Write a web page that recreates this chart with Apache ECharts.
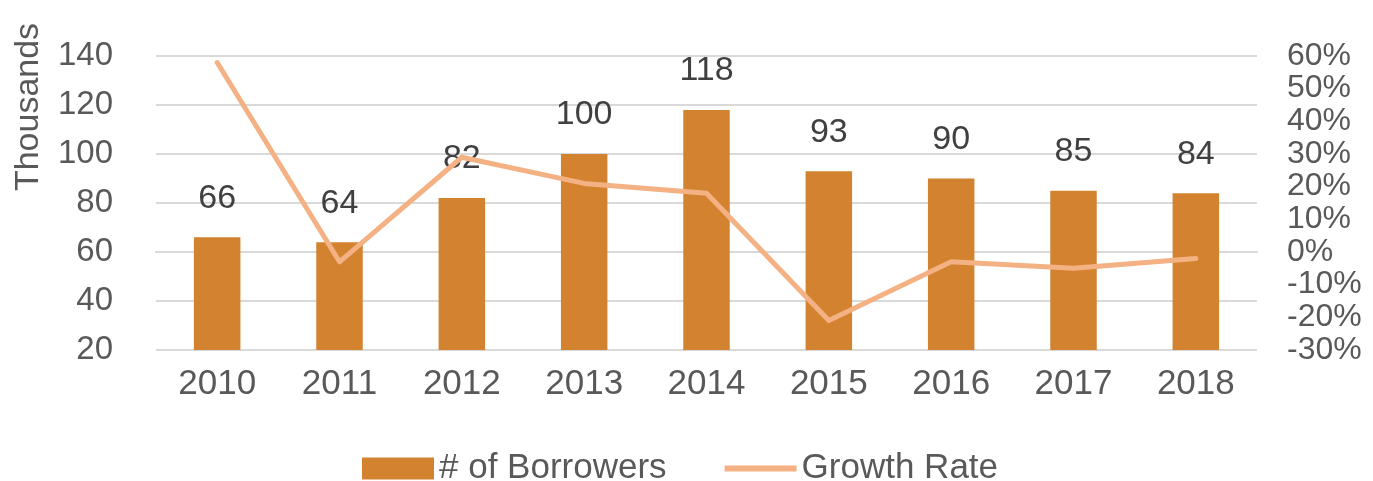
<!DOCTYPE html>
<html>
<head>
<meta charset="utf-8">
<script src="https://cdn.jsdelivr.net/npm/echarts@6/dist/echarts.min.js"></script>
<style>
  html, body { margin: 0; padding: 0; background: #fff; }
  #main { width: 1373px; height: 481px; }
</style>
</head>
<body>
<div id="main"></div>
<script>
// data
var years = ['2010', '2011', '2012', '2013', '2014', '2015', '2016', '2017', '2018'];
var borrowers = [66, 64, 82, 100, 118, 93, 90, 85, 84];        // thousands
var growthRate = [58, -3, 29, 21, 18, -21, -3, -5, -2];       // percent

var txt = '#595959';
var font = 'Liberation Sans, Arial, sans-serif';
var barColor = '#D3832F';
var lineColor = '#F4B183';

var chart = echarts.init(document.getElementById('main'));

var option = {
  animation: false,
  textStyle: { fontFamily: font },
  grid: { left: 156, right: 116, top: 56, bottom: 131 },
  graphic: [{
    type: 'text',
    x: 29,
    y: 107,
    rotation: Math.PI / 2,
    style: {
      text: 'Thousands',
      fontSize: 34,
      fontFamily: font,
      fill: txt,
      align: 'center',
      verticalAlign: 'middle'
    }
  }],
  legend: {
    top: 446,
    left: 357,
    itemGap: 58,
    itemWidth: 72,
    itemHeight: 22,
    textStyle: { fontSize: 35, color: txt, fontFamily: font },
    data: [
      { name: '# of Borrowers', icon: 'rect' },
      { name: 'Growth Rate', icon: 'path://M0,0 L72,0 L72,6 L0,6 Z' }
    ]
  },
  xAxis: {
    type: 'category',
    data: years,
    axisTick: { show: false },
    axisLine: { lineStyle: { color: '#D9D9D9', width: 2 } },
    axisLabel: { fontSize: 35, color: txt, margin: 17 }
  },
  yAxis: [{
    type: 'value',
    min: 20, max: 140, interval: 20,
    axisLine: { show: false },
    axisTick: { show: false },
    splitLine: { lineStyle: { color: '#D9D9D9', width: 2 } },
    axisLabel: { fontSize: 33, color: txt, margin: 43 }
  }, {
    type: 'value',
    min: -30, max: 60, interval: 10,
    axisLine: { show: false },
    axisTick: { show: false },
    splitLine: { show: false },
    axisLabel: {
      fontSize: 32, lineHeight: 30, color: txt, margin: 30, formatter: '{value}%',
      showMinLabel: true, showMaxLabel: true, hideOverlap: false
    }
  }],
  series: [{
    name: '# of Borrowers',
    type: 'bar',
    data: borrowers,
    barWidth: '38%',
    itemStyle: { color: barColor },
    label: { show: true, position: 'top', distance: 22, fontSize: 34, color: '#404040' },
    z: 2
  }, {
    name: 'Growth Rate',
    type: 'line',
    yAxisIndex: 1,
    data: growthRate,
    symbol: 'none',
    lineStyle: { color: lineColor, width: 5, cap: 'round', join: 'round' },
    itemStyle: { color: lineColor },
    z: 3
  }]
};

chart.setOption(option);
</script>
</body>
</html>
